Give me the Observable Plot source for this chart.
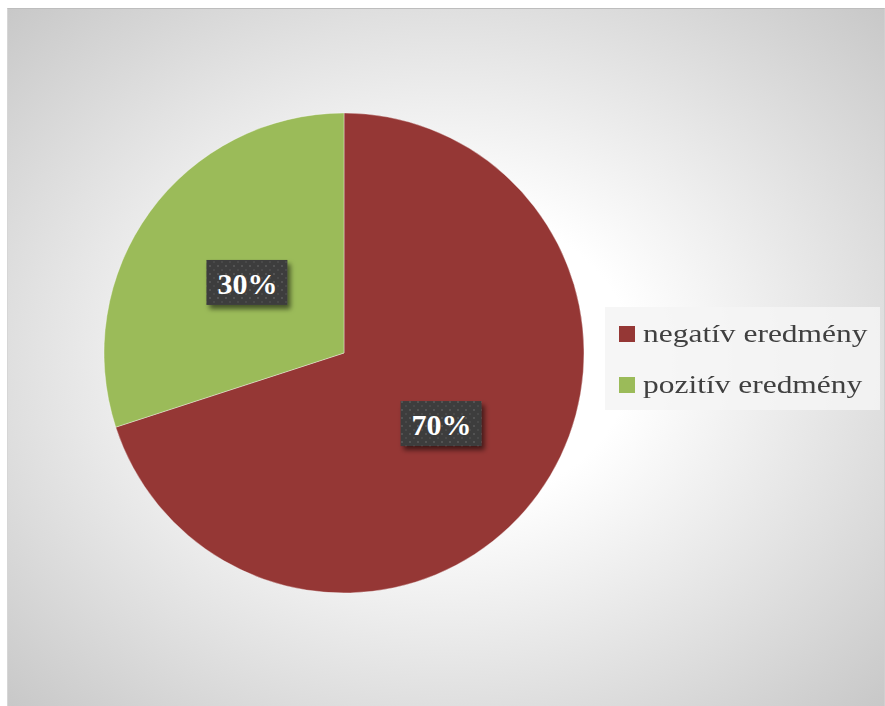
<!DOCTYPE html>
<html>
<head>
<meta charset="utf-8">
<script src="https://cdn.jsdelivr.net/npm/d3@7"></script>
<script src="https://cdn.jsdelivr.net/npm/@observablehq/plot@0.6"></script>
<style>
  html, body { margin: 0; padding: 0; background: #fff; }
  #page { position: relative; width: 885px; height: 706px; overflow: hidden; background: #fff; }
  #frame { position: absolute; left: 7px; top: 8px; width: 878px; height: 698px; box-sizing: border-box;
           border-top: 1px solid #bdbdbd; border-left: 1px solid #d6d6d6; border-right: 1px solid #d0d0d0;
           background: radial-gradient(ellipse farthest-corner at 50% 50%, #ffffff 0%, #ffffff 30%, #c8c8c8 100%); }
  #chart { position: absolute; left: 0; top: 0; }
  #legend { position: absolute; left: 605px; top: 307px; width: 275px; height: 103px; background: rgba(245,245,245,0.85);
            font-family: "Liberation Serif", "Times New Roman", serif; color: #404040; }
  .sw { position: absolute; left: 14px; width: 16px; height: 16px; }
  .txt { position: absolute; left: 38px; font-size: 26px; line-height: 26px; white-space: nowrap;
         transform: scaleX(1.21); transform-origin: 0 50%; }
</style>
</head>
<body>
<div id="page">
  <div id="frame"></div>
  <div id="chart"></div>
  <div id="legend"></div>
</div>
<script>
const categories = ["negatív eredmény", "pozitív eredmény"];
const values = [70, 30];
const labels = ["70%", "30%"];
const colors = ["#953735", "#9bbb59"];

const rows = categories.map((c, i) => ({category: c, value: values[i], label: labels[i], color: colors[i]}));
const arcs = d3.pie().sort(null).value(d => d.value)(rows);
const labelRows = arcs.map(a => {
  const m = (a.startAngle + a.endAngle) / 2;
  return {label: a.data.label, x: 0.5 * Math.sin(m), y: 0.5 * Math.cos(m)};
});

const cx = 344, cy = 353, R = 240;

function pieMark(index, scales) {
  const sx = scales.x, sy = scales.y;
  const x0 = sx(0), y0 = sy(0), r = sx(1) - sx(0);
  const g = d3.create("svg:g");
  const defs = g.append("defs");
  const pat = defs.append("pattern").attr("id", "dots").attr("patternUnits", "userSpaceOnUse")
    .attr("width", 8).attr("height", 8);
  pat.append("rect").attr("width", 8).attr("height", 8).attr("fill", "#3e3e3e");
  pat.append("rect").attr("x", 1).attr("y", 1).attr("width", 2).attr("height", 2).attr("fill", "#525252");
  pat.append("rect").attr("x", 5).attr("y", 5).attr("width", 2).attr("height", 2).attr("fill", "#4a4a4a");
  const f = defs.append("filter").attr("id", "shadow").attr("x", "-20%").attr("y", "-20%").attr("width", "150%").attr("height", "160%");
  f.append("feDropShadow").attr("dx", 3).attr("dy", 4).attr("stdDeviation", 2.5).attr("flood-color", "#000").attr("flood-opacity", 0.55);
  const arc = d3.arc().innerRadius(0).outerRadius(r);
  g.append("g").attr("transform", `translate(${x0},${y0})`)
    .selectAll("path").data(arcs).join("path")
    .attr("d", arc)
    .attr("fill", d => d.data.color)
    .attr("stroke", "#ffffff").attr("stroke-opacity", 0.45).attr("stroke-width", 0.8);
  g.append("g").selectAll("rect").data(labelRows).join("rect")
    .attr("x", d => sx(d.x) - 40.5).attr("y", d => sy(d.y) - 22.5)
    .attr("width", 81).attr("height", 45)
    .attr("fill", "url(#dots)").attr("filter", "url(#shadow)");
  return g.node();
}

const plot = Plot.plot({
  width: 885,
  height: 706,
  margin: 0,
  style: {background: "transparent", overflow: "visible"},
  x: {type: "linear", domain: [-1, 1], range: [cx - R, cx + R], axis: null},
  y: {type: "linear", domain: [-1, 1], range: [cy + R, cy - R], axis: null},
  marks: [
    pieMark,
    Plot.text(labelRows, {
      x: "x", y: "y", text: "label",
      fill: "#ffffff", fontSize: 30, fontWeight: "bold",
      fontFamily: "Liberation Serif, Times New Roman, serif",
      textAnchor: "middle", lineAnchor: "middle", dy: 1
    })
  ]
});
document.getElementById("chart").appendChild(plot);

const legend = document.getElementById("legend");
categories.forEach((c, i) => {
  const sw = document.createElement("div");
  sw.className = "sw";
  sw.style.top = (19 + i * 51) + "px";
  sw.style.background = colors[i];
  const t = document.createElement("div");
  t.className = "txt";
  t.style.top = (14 + i * 51) + "px";
  t.textContent = c;
  legend.appendChild(sw);
  legend.appendChild(t);
});
</script>
</body>
</html>
